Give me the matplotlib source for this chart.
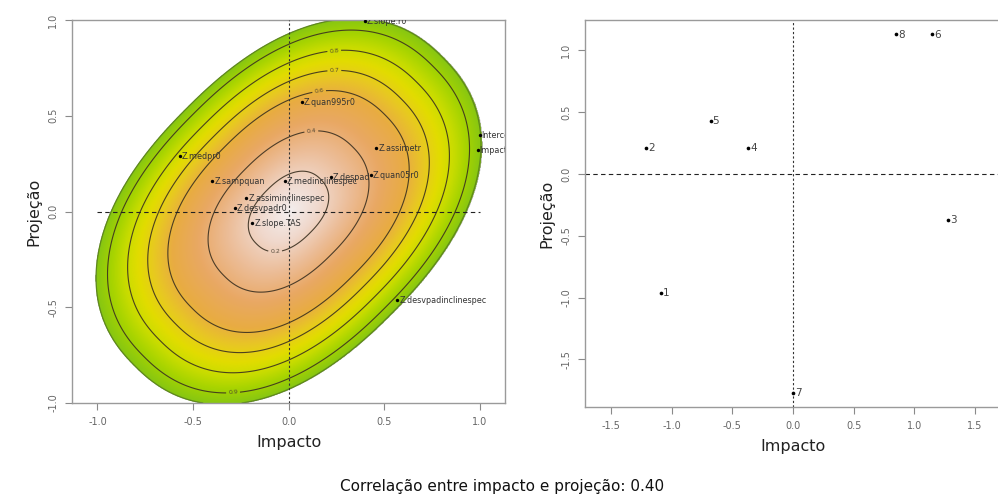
import numpy as np
import matplotlib
matplotlib.use("Agg")
import matplotlib.pyplot as plt
from matplotlib.colors import LinearSegmentedColormap, Normalize
from matplotlib.transforms import offset_copy

plt.rcParams['axes.unicode_minus'] = False

# ---------------- data ----------------
# surface shape: rounded (super-elliptic) level sets tilted at 45 deg
axis_major = 1.19     # extent along the (1, 1) direction at level 1
axis_minor = 0.7917   # extent along the (-1, 1) direction at level 1
shape_power = 2.3
contour_levels = [0.2, 0.4, 0.6, 0.7, 0.8, 0.9]
fill_max = 0.96
label_pos = [(-0.07, -0.21), (0.12, 0.41), (0.16, 0.63), (0.24, 0.73), (0.24, 0.83), (-0.29, -0.95)]

left_names = ["Z.slope.r0", "Z.quan995r0", "Z.medpr0", "Z.assimetr", "Intercept", "Impacto",
              "Z.sampquan", "Z.medinclinespec", "Z.despad", "Z.quan05r0",
              "Z.assiminclinespec", "Z.desvpadr0", "Z.slope.TAS", "Z.desvpadinclinespec"]
left_x = [0.40, 0.07, -0.57, 0.46, 1.00, 0.99, -0.40, -0.02, 0.22, 0.43, -0.22, -0.28, -0.19, 0.57]
left_y = [0.995, 0.57, 0.29, 0.33, 0.40, 0.32, 0.16, 0.16, 0.18, 0.19, 0.07, 0.02, -0.06, -0.46]

right_names = ["1", "2", "3", "4", "5", "6", "7", "8"]
right_x = [-1.09, -1.21, 1.28, -0.37, -0.68, 1.15, 0.00, 0.85]
right_y = [-0.96, 0.21, -0.37, 0.21, 0.43, 1.13, -1.77, 1.13]

left_xticks = [-1.0, -0.5, 0.0, 0.5, 1.0]
left_yticks = [-1.0, -0.5, 0.0, 0.5, 1.0]
right_xticks = [-1.5, -1.0, -0.5, 0.0, 0.5, 1.0, 1.5]
right_yticks = [-1.5, -1.0, -0.5, 0.0, 0.5, 1.0]

xlabel_text = "Impacto"
ylabel_text = "Projeção"
caption = "Correlação entre impacto e projeção: 0.40"

# colour ramp (level -> colour)
ramp_levels = [0.00, 0.15, 0.30, 0.45, 0.58, 0.67, 0.75, 0.82, 0.88, 0.96]
ramp_colors = ["#f3eeee", "#f0d8cc", "#ecbd98", "#e9a864", "#e8ac42", "#e8c822",
               "#e2dc00", "#c8dc00", "#a8d400", "#86c612"]

# ---------------- figure ----------------
fig = plt.figure(figsize=(9.98, 4.99), dpi=100)

def style(ax, xt, yt):
    for s in ax.spines.values():
        s.set_color('#9a9a9a')
        s.set_linewidth(1.0)
    ax.set_xticks(xt)
    ax.set_xticklabels(["%.1f" % v for v in xt])
    ax.set_yticks(yt)
    ax.set_yticklabels(["%.1f" % v for v in yt], rotation=90, va='center')
    ax.tick_params(direction='out', length=5, width=0.8, color='#8a8a8a',
                   labelcolor='#666666', labelsize=7, pad=5)
    ax.set_xlabel(xlabel_text, fontsize=11.5, family='DejaVu Sans', labelpad=6, color='#222222')
    ax.set_ylabel(ylabel_text, fontsize=11.5, family='DejaVu Sans', labelpad=5, color='#222222')

# ---- left panel ----
ax1 = fig.add_axes([0.0721, 0.1924, 0.434, 0.7675])
xl = (-1.1336, 1.1336)
yl = (-1.0, 1.0)
gx = np.linspace(xl[0], xl[1], 700)
gy = np.linspace(yl[0], yl[1], 700)
X, Y = np.meshgrid(gx, gy)
U = (X + Y) / np.sqrt(2)
V = (Y - X) / np.sqrt(2)
Z = ((np.abs(U) / axis_major) ** shape_power + (np.abs(V) / axis_minor) ** shape_power) ** (1.0 / shape_power)

cmap = LinearSegmentedColormap.from_list(
    "terr", [(l / fill_max, col) for l, col in zip(ramp_levels, ramp_colors)])
Zm = np.ma.masked_where(Z > fill_max, Z)
ax1.imshow(Zm, extent=(xl[0], xl[1], yl[0], yl[1]), origin='lower', cmap=cmap,
           norm=Normalize(0, fill_max), aspect='auto', interpolation='bilinear', zorder=1)
ax1.contour(X, Y, Z, levels=[fill_max - 0.003], colors='#5f8a1a', linewidths=0.9, zorder=2)
cs = ax1.contour(X, Y, Z, levels=contour_levels, colors='#3b3020', linewidths=0.8, alpha=0.9, zorder=2)
ax1.clabel(cs, fmt='%.1f', fontsize=4.5, inline=True, inline_spacing=2,
           manual=label_pos, colors='#4a4030')

ax1.hlines(0, left_xticks[0], left_xticks[-1], colors='#222222', linestyles=(0, (4, 3)),
           linewidth=0.8, zorder=3)
ax1.axvline(0, color='#333333', linestyle=(0, (2, 2)), linewidth=0.8, zorder=3)

ax1.scatter(left_x, left_y, s=6, c='black', zorder=5, linewidths=0)
t1o = offset_copy(ax1.transData, fig=fig, x=1.5, y=-0.3, units='points')
for n, x, y in zip(left_names, left_x, left_y):
    ax1.text(x, y, n, transform=t1o, fontsize=5.8, color='#333333', va='center', ha='left',
             clip_on=True, zorder=6)
ax1.set_xlim(*xl)
ax1.set_ylim(*yl)
style(ax1, left_xticks, left_yticks)

# ---- right panel ----
ax2 = fig.add_axes([0.5862, 0.1844, 0.4168, 0.7756])
ax2.axvline(0, color='#333333', linestyle=(0, (2, 2)), linewidth=0.8)
ax2.axhline(0, color='#222222', linestyle=(0, (4, 3)), linewidth=0.8)
ax2.scatter(right_x, right_y, s=7, c='black', zorder=5, linewidths=0)
t2o = offset_copy(ax2.transData, fig=fig, x=1.5, y=-0.3, units='points')
for n, x, y in zip(right_names, right_x, right_y):
    ax2.text(x, y, n, transform=t2o, fontsize=7.5, color='#444444', va='center', ha='left',
             clip_on=True, zorder=6)
ax2.set_xlim(-1.716, 1.716)
ax2.set_ylim(-1.886, 1.246)
style(ax2, right_xticks, right_yticks)

fig.text(0.503, 0.026, caption, ha='center', va='center', fontsize=11,
         family='DejaVu Sans', color='#111111')

fig.savefig("out.png", dpi=100)
